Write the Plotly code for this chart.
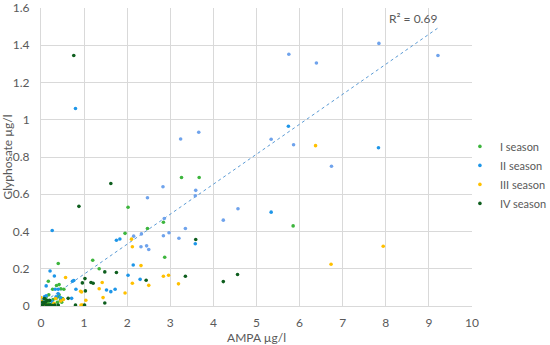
import plotly.graph_objects as go

# ---- data ----
s1_x = [2.02, 1.95, 2.47, 2.84, 2.87, 3.26, 3.67, 5.85, 1.20, 1.35, 0.40, 0.17, 0.36, 0.42, 0.27, 0.46, 0.53,
        0.02, 0.05, 0.08, 0.10, 0.12, 0.15, 0.20, 0.25, 0.30, 0.05, 0.10, 0.35, 0.40, 0.45, 0.50, 0.38, 0.42, 0.18, 0.28, 0.48]
s1_y = [0.53, 0.39, 0.416, 0.45, 0.262, 0.69, 0.69, 0.43, 0.246, 0.20, 0.228, 0.133, 0.11, 0.115, 0.09, 0.093, 0.09,
        0.01, 0.02, 0.03, 0.04, 0.05, 0.02, 0.01, 0.005, 0.005, 0.005, 0.01, 0.04, 0.05, 0.03, 0.04, 0.02, 0.06, 0.06, 0.035, 0.02]

s2_x = [0.80, 0.26, 0.21, 0.31, 0.12, 0.33, 0.40, 0.73, 0.76, 0.81, 0.71, 1.75, 1.83, 2.14, 2.02, 2.30, 1.52, 1.62, 1.72,
        3.58, 5.34, 5.74, 7.83,
        0.02, 0.05, 0.08, 0.12, 0.03, 0.35, 0.40, 0.25, 0.45]
s2_y = [1.06, 0.405, 0.188, 0.161, 0.108, 0.09, 0.09, 0.133, 0.137, 0.09, 0.041, 0.353, 0.36, 0.22, 0.165, 0.143, 0.086, 0.077, 0.09,
        0.334, 0.504, 0.965, 0.85,
        0.02, 0.035, 0.05, 0.055, 0.005, 0.05, 0.065, 0.025, 0.045]

# lighter blue points (no legend entry in the reference)
s2b_x = [3.24, 3.66, 2.83, 2.47, 3.59, 3.58, 2.86, 2.84, 2.97, 3.35, 3.20, 2.15, 2.33, 2.32, 2.45, 2.50,
         4.23, 4.57, 5.34, 5.86, 6.74, 7.84, 9.21, 5.75, 6.39]
s2b_y = [0.897, 0.933, 0.64, 0.581, 0.621, 0.592, 0.47, 0.377, 0.393, 0.416, 0.364, 0.375, 0.387, 0.318, 0.323, 0.303,
         0.461, 0.522, 0.895, 0.866, 0.75, 1.41, 1.345, 1.352, 1.305]

s3_x = [6.37, 7.94, 6.73, 2.10, 2.12, 2.32, 2.12, 2.50, 2.84, 2.96, 3.19, 1.95, 1.42, 1.35, 1.44, 0.92, 0.94, 1.04, 0.93, 0.96, 0.57,
        0.00, 0.02, 0.06, 0.10, 0.34, 0.46, 0.30, 0.52, 0.15]
s3_y = [0.861, 0.321, 0.224, 0.359, 0.318, 0.217, 0.122, 0.111, 0.16, 0.165, 0.119, 0.07, 0.126, 0.093, 0.045, 0.079, 0.075, 0.031, 0.005, 0.005, 0.153,
        0.045, 0.025, 0.01, 0.005, 0.04, 0.027, 0.015, 0.035, 0.005]

s4_x = [0.76, 0.88, 1.62, 1.48, 1.75, 1.16, 1.21, 1.02, 0.96, 1.03, 0.63, 0.80, 1.01, 1.48, 2.44, 3.35, 3.59, 4.23, 4.56,
        0.00, 0.03, 0.06, 0.10, 0.13, 0.17, 0.22, 0.27, 0.32, 0.08, 0.14, 0.40, 0.04, 0.20]
s4_y = [1.345, 0.535, 0.658, 0.183, 0.18, 0.126, 0.122, 0.147, 0.124, 0.081, 0.041, 0.005, 0.005, 0.016, 0.138, 0.16, 0.357, 0.131, 0.169,
        0.0, 0.005, 0.01, 0.02, 0.005, 0.005, 0.005, 0.003, 0.005, 0.04, 0.03, 0.005, 0.02, 0.03]

series_names = ["I season", "II season", "III season", "IV season"]
trend_slope = 0.161
trend_intercept = 0.01
trend_x_range = [0.0, 9.2]
r2_text = "R² = 0.69"

x_ticks = list(range(0, 11))
y_ticks = [0, 0.2, 0.4, 0.6, 0.8, 1, 1.2, 1.4, 1.6]

# ---- figure ----
FONT = "Lato, 'Open Sans', sans-serif"
TXT = "#595959"
MS = 3.6

fig = go.Figure()

trend_y = [trend_intercept + trend_slope * v for v in trend_x_range]
fig.add_trace(go.Scatter(x=trend_x_range, y=trend_y, mode="lines",
                         line=dict(color="#5B9BD5", width=1, dash="dot"),
                         showlegend=False, hoverinfo="skip"))

fig.add_trace(go.Scatter(x=s2b_x, y=s2b_y, mode="markers",
                         marker=dict(color="#6FA3EC", size=MS), showlegend=False))

colors = ["#3DB53D", "#1E96E8", "#FFC000", "#0E5E1E"]
for name, xs, ys, c in zip(series_names, [s1_x, s2_x, s3_x, s4_x], [s1_y, s2_y, s3_y, s4_y], colors):
    fig.add_trace(go.Scatter(x=xs, y=ys, mode="markers", name=name,
                             marker=dict(color=c, size=MS)))

fig.add_annotation(x=8.62, y=1.49, text=r2_text, showarrow=False,
                   xanchor="center", yanchor="bottom",
                   font=dict(family=FONT, size=12, color=TXT))

fig.update_layout(
    width=550, height=345,
    margin=dict(l=41, r=78, t=8, b=39, autoexpand=False),
    paper_bgcolor="white", plot_bgcolor="white",
    font=dict(family=FONT, size=12, color=TXT),
    legend=dict(x=0.972, xanchor="left", y=0.44, yanchor="middle",
                font=dict(family=FONT, size=11, color=TXT),
                itemsizing="trace", tracegroupgap=0, bgcolor="rgba(0,0,0,0)"),
)
fig.update_xaxes(range=[0, 10], tickvals=x_ticks, showgrid=True, gridcolor="#D9D9D9", gridwidth=1,
                 zeroline=False, showline=True, linecolor="#D9D9D9", mirror=False,
                 ticks="", ticklabelstandoff=6, tickfont=dict(size=12),
                 title=dict(text="AMPA µg/l", standoff=4, font=dict(family=FONT, size=12, color=TXT)))
fig.update_yaxes(range=[0, 1.6], tickvals=y_ticks, showgrid=True, gridcolor="#D9D9D9", gridwidth=1,
                 zeroline=False, showline=True, linecolor="#D9D9D9",
                 ticks="", ticklabelstandoff=8, tickfont=dict(size=12),
                 title=dict(text="Glyphosate µg/l", standoff=4, font=dict(family=FONT, size=12, color=TXT)))

fig.write_html("out.html", config={"displayModeBar": False},
               post_script="document.body.style.margin='0';document.body.style.padding='0';")
